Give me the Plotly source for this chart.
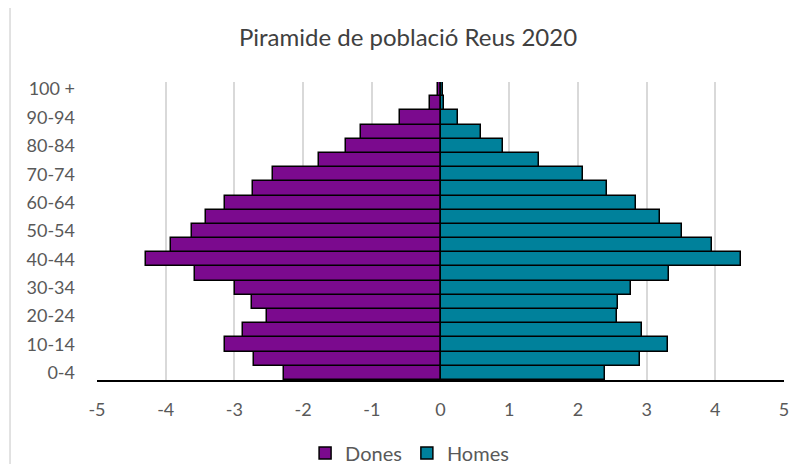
import plotly.graph_objects as go

age_groups = ["0-4", "5-9", "10-14", "15-19", "20-24", "25-29", "30-34", "35-39",
              "40-44", "45-49", "50-54", "55-59", "60-64", "65-69", "70-74", "75-79",
              "80-84", "85-89", "90-94", "95-99", "100 +"]
dones = [-2.28, -2.72, -3.14, -2.87, -2.52, -2.75, -2.99, -3.57, -4.28, -3.93, -3.62,
         -3.41, -3.14, -2.73, -2.44, -1.77, -1.37, -1.16, -0.59, -0.15, -0.03]
homes = [2.40, 2.91, 3.31, 2.94, 2.57, 2.58, 2.78, 3.33, 4.38, 3.95, 3.52,
         3.19, 2.85, 2.43, 2.07, 1.43, 0.91, 0.59, 0.26, 0.05, 0.03]
shown_labels = ["0-4", "10-14", "20-24", "30-34", "40-44", "50-54", "60-64",
                "70-74", "80-84", "90-94", "100 +"]
x_ticks = [-5, -4, -3, -2, -1, 0, 1, 2, 3, 4, 5]

font_family = "Lato, 'Open Sans', sans-serif"

fig = go.Figure()
fig.add_trace(go.Bar(y=age_groups, x=dones, name="Dones", orientation="h",
                     marker=dict(color="#7B0A8E", line=dict(color="#000000", width=1.5))))
fig.add_trace(go.Bar(y=age_groups, x=homes, name="Homes", orientation="h",
                     marker=dict(color="#00819B", line=dict(color="#000000", width=1.5))))

fig.update_layout(
    width=812, height=490,
    margin=dict(l=89, r=36, t=74, b=118),
    paper_bgcolor="white", plot_bgcolor="white",
    barmode="relative", bargap=0,
    font=dict(family=font_family, color="#595959", size=18),
    title=dict(text="Piramide de població Reus 2020", x=0.4926, xanchor="center",
               y=1 - 30 / 490, yanchor="middle",
               font=dict(family=font_family, size=24, color="#404040")),
    xaxis=dict(range=[-5, 5], tickvals=x_ticks, ticktext=[str(v) for v in x_ticks],
               showgrid=True, gridcolor="#D9D9D9", gridwidth=1.5, zeroline=False,
               showline=True, linecolor="#000000", linewidth=1.5,
               ticks="", ticklabelstandoff=13, tickfont=dict(size=18, color="#595959")),
    yaxis=dict(type="category", categoryorder="array", categoryarray=age_groups,
               tickvals=shown_labels, ticktext=shown_labels, showgrid=False,
               zeroline=False, showline=False, ticks="", ticklabelstandoff=21,
               range=[-0.5, 20.5], tickfont=dict(size=18, color="#595959")),
    legend=dict(orientation="h", x=0.455, xanchor="center", y=-0.245, yanchor="middle",
                font=dict(size=20, color="#595959"), itemwidth=30, traceorder="normal"),
    showlegend=True,
)
fig.add_shape(type="line", xref="paper", yref="paper", x0=-0.1266, x1=-0.1266, y0=-0.4, y1=1.3,
              line=dict(color="#D9D9D9", width=1.5))

fig.write_html("out.html")
